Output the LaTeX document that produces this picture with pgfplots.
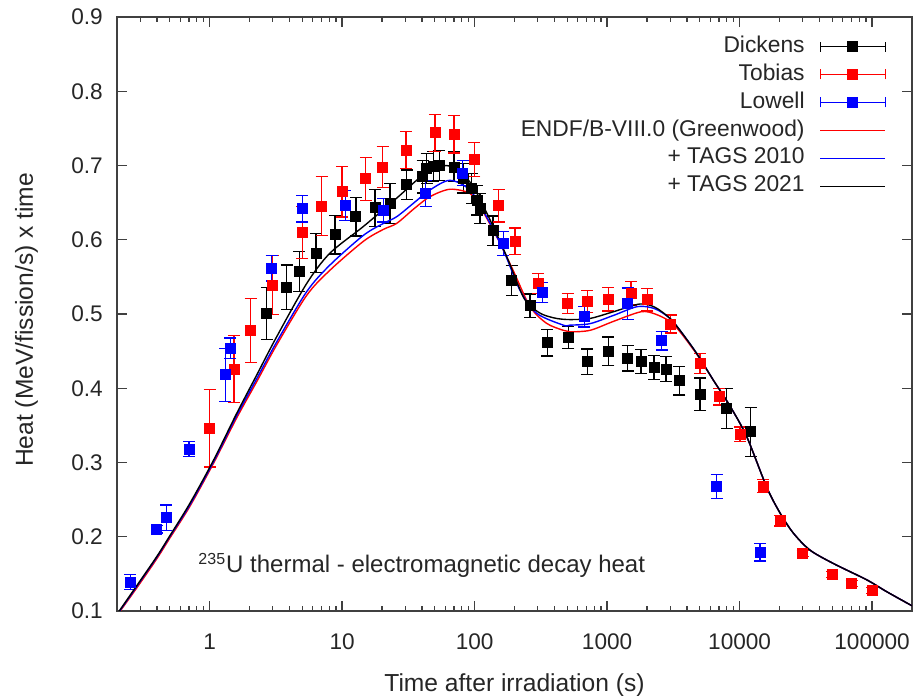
\documentclass[border=0pt]{standalone}
\usepackage{fontspec}
\setmainfont{Liberation Sans}
\usepackage{pgfplots}
\usepackage{pgfplotstable}
\pgfplotsset{compat=1.18}

% Dickens: time, value, error
\pgfplotstableread{
x y e
2.70 0.501 0.035
3.82 0.536 0.030
4.75 0.5575 0.027
6.35 0.582 0.026
8.84 0.607 0.026
12.7 0.631 0.026
17.7 0.643 0.025
23.0 0.649 0.027
30.7 0.674 0.020
40.6 0.685 0.022
43.5 0.696 0.020
48.8 0.699 0.020
54.2 0.700 0.020
69.9 0.698 0.020
82 0.683 0.020
95 0.669 0.020
105 0.6535 0.020
110 0.642 0.020
138 0.612 0.020
190 0.545 0.020
262 0.511 0.016
354 0.4614 0.018
509 0.4686 0.015
709 0.4358 0.017
1020 0.450 0.019
1430 0.4403 0.017
1800 0.4358 0.016
2260 0.428 0.016
2780 0.426 0.017
3510 0.410 0.019
5024 0.3918 0.022
7980 0.373 0.027
12130 0.3415 0.033
}\dickens

% Tobias
\pgfplotstableread{
x y e
1.0 0.346 0.052
1.53 0.426 0.045
2.04 0.4775 0.043
2.99 0.539 0.040
5.0 0.610 0.035
7.0 0.6455 0.040
10.0 0.6647 0.034
15.1 0.682 0.029
20.2 0.698 0.028
30.3 0.721 0.025
50.2 0.744 0.025
69.9 0.742 0.025
99.5 0.708 0.023
152 0.646 0.022
202 0.598 0.018
303 0.541 0.0135
504 0.514 0.0135
709 0.5166 0.015
1020 0.520 0.016
1515 0.528 0.016
2010 0.519 0.015
3020 0.4865 0.012
5024 0.4336 0.0135
7030 0.3886 0.011
10070 0.338 0.010
15100 0.2683 0.009
20180 0.2216 0.007
29900 0.1777 0.004
50000 0.1494 0.004
70150 0.1373 0.004
100300 0.1274 0.004
}\tobias

% Lowell
\pgfplotstableread{
x y e
0.252 0.139 0.010
0.40 0.210 0.005
0.47 0.2257 0.017
0.70 0.318 0.010
1.31 0.418 0.036
1.43 0.454 0.0135
2.94 0.5615 0.017
5.0 0.642 0.018
10.6 0.646 0.020
20.5 0.640 0.016
42.8 0.6626 0.0175
81.3 0.690 0.017
165 0.595 0.016
324 0.5287 0.0135
673 0.4964 0.014
1430 0.514 0.021
2580 0.464 0.0125
6710 0.2674 0.016
14260 0.179 0.0115
}\lowell

% ENDF/B-VIII.0 (Greenwood)
\pgfplotstableread{
x y
0.2 0.094
0.25 0.118
0.3 0.138
0.4 0.1705
0.5 0.198
0.71 0.241
1.07 0.299
1.6 0.360
2.27 0.409
3.2 0.458
5.4 0.525
8.1 0.559
14.5 0.598
20.5 0.614
25.8 0.622
35 0.642
46 0.658
65 0.668
92 0.6625
110 0.6445
147 0.604
195 0.559
262 0.510
349 0.4875
467 0.478
525 0.476
743 0.478
1114 0.490
1800 0.503
2300 0.500
2985 0.490
3550 0.476
4740 0.446
6330 0.411
8460 0.376
11300 0.335
16000 0.267
20180 0.232
25420 0.205
33980 0.182
50940 0.164
91000 0.142
128800 0.126
200000 0.107
}\endf

% + TAGS 2010
\pgfplotstableread{
x y
0.2 0.095
0.25 0.1195
0.3 0.140
0.4 0.1725
0.5 0.200
0.71 0.243
1.07 0.301
1.6 0.363
2.27 0.413
3.2 0.462
5.4 0.530
8.1 0.566
14.5 0.606
20.5 0.622
25.8 0.631
35 0.650
46 0.667
65 0.680
92 0.667
123 0.631
165 0.586
220 0.532
294 0.501
467 0.485
525 0.485
743 0.487
1114 0.498
1700 0.510
2300 0.507
2985 0.494
3550 0.478
4740 0.447
6330 0.411
8460 0.376
11300 0.335
16000 0.267
20180 0.232
25420 0.205
33980 0.182
50940 0.164
91000 0.142
128800 0.126
200000 0.107
}\tagsa

% + TAGS 2021
\pgfplotstableread{
x y
0.2 0.0956
0.25 0.1206
0.3 0.141
0.4 0.1735
0.5 0.201
0.71 0.245
1.07 0.303
1.6 0.366
2.27 0.418
3.2 0.469
5.4 0.541
8.1 0.582
14.5 0.618
25.8 0.656
41 0.687
61.6 0.700
80 0.688
97.8 0.6715
130.6 0.627
175 0.577
233 0.523
280 0.507
330 0.499
416 0.494
525 0.4925
743 0.494
1114 0.503
1770 0.5135
2300 0.509
2985 0.494
3550 0.478
4740 0.447
6330 0.411
8460 0.376
11300 0.335
16000 0.267
20180 0.232
25420 0.205
33980 0.182
50940 0.164
91000 0.142
128800 0.126
200000 0.107
}\tagsb

\pgfplotsset{
  errleg/.style={legend image code/.code={
    \draw[#1, line width=0.65pt] (0pt,0pt) -- (32.5pt,0pt);
    \draw[#1, line width=0.65pt] (0pt,-2.5pt) -- (0pt,2.5pt);
    \draw[#1, line width=0.65pt] (32.5pt,-2.5pt) -- (32.5pt,2.5pt);
    \draw[#1, only marks, mark=square*, mark size=2.5pt] plot coordinates {(16.25pt,0pt)};
  }},
  pts/.style={only marks, mark=square*, mark size=2.5pt, color=#1,
    error bars/.cd, y dir=both, y explicit,
    error bar style={line width=0.65pt, #1},
    error mark options={rotate=90, mark size=3pt, line width=0.65pt, #1},
    /pgfplots/.cd},
  crv/.style={color=#1, line width=0.7pt, smooth, tension=0.5, no marks},
}

\begin{document}
\begin{tikzpicture}
\begin{semilogxaxis}[
    scale only axis,
    width=397.5pt, height=297pt,
    xmin=0.2, xmax=200000,
    ymin=0.1, ymax=0.9,
    axis line style={black!75, line width=0.65pt},
    tick style={black!75, line width=0.65pt},
    tick align=inside,
    tick pos=both,
    major tick length=5pt,
    minor tick length=2.5pt,
    xtick={1,10,100,1000,10000,100000},
    xticklabels={1,10,100,1000,10000,100000},
    minor xtick={0.3,0.4,0.5,0.6,0.7,0.8,0.9,2,3,4,5,6,7,8,9,20,30,40,50,60,70,80,90,200,300,400,500,600,700,800,900,2000,3000,4000,5000,6000,7000,8000,9000,20000,30000,40000,50000,60000,70000,80000,90000},
    ytick={0.1,0.2,0.3,0.4,0.5,0.6,0.7,0.8,0.9},
    yticklabels={0.1,0.2,0.3,0.4,0.5,0.6,0.7,0.8,0.9},
    minor y tick num=0,
    ticklabel style={font=\fontsize{11.3}{13}\selectfont, text=black!85},
    xticklabel style={anchor=base, inner sep=0pt, yshift=-19.2pt},
    yticklabel style={anchor=east, inner sep=0pt, xshift=-6.9pt},
    xlabel={Time after irradiation (s)},
    ylabel={Heat (MeV/fission/s) x time},
    label style={font=\fontsize{12.3}{14}\selectfont, text=black!85},
    xlabel style={at={(axis description cs:0.5,-0.1357)}, anchor=base, inner sep=0pt},
    ylabel style={at={(axis description cs:-0.1057,0.49)}, anchor=base, inner sep=0pt},
    legend image code/.code={\draw[#1] (0pt,0pt) -- (32.5pt,0pt);},
    legend plot pos=right,
    legend cell align=right,
    legend style={draw=none, fill=none, at={(rel axis cs:1,1)}, anchor=north east,
      xshift=-13pt, yshift=-9pt, inner sep=0pt, outer sep=0pt,
      row sep=2.5pt, column sep=7.5pt,
      font=\fontsize{11.4}{13}\selectfont, text=black!85,
      nodes={inner sep=0pt, text height=8.5pt, text depth=3pt}},
]
\addplot[errleg=black, pts=black] table[x=x, y=y, y error=e] {\dickens};
\addlegendentry{Dickens}
\addplot[errleg=red, pts=red] table[x=x, y=y, y error=e] {\tobias};
\addlegendentry{Tobias}
\addplot[errleg=blue, pts=blue] table[x=x, y=y, y error=e] {\lowell};
\addlegendentry{Lowell}
\addplot[crv=red] table[x=x, y=y] {\endf};
\addlegendentry{ENDF/B-VIII.0 (Greenwood)}
\addplot[crv=blue] table[x=x, y=y] {\tagsa};
\addlegendentry{+ TAGS 2010}
\addplot[crv=black] table[x=x, y=y] {\tagsb};
\addlegendentry{+ TAGS 2021}
\node[anchor=base west, inner sep=0pt, font=\fontsize{12}{14}\selectfont, text=black!85]
  at (rel axis cs:0.102,0.064) {\textsuperscript{235}U thermal - electromagnetic decay heat};
\end{semilogxaxis}
\pgfresetboundingbox
\path ([xshift=-58.5pt,yshift=-42.5pt]current axis.south west) rectangle ([xshift=3pt,yshift=8.5pt]current axis.north east);
\end{tikzpicture}
\end{document}
